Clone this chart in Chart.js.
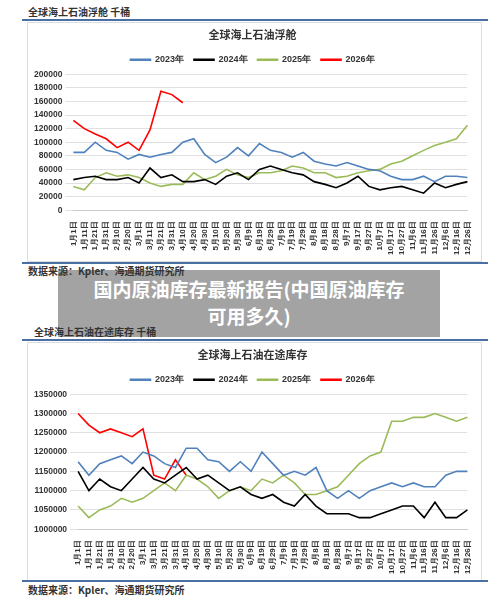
<!DOCTYPE html>
<html><head><meta charset="utf-8">
<script src="https://cdn.jsdelivr.net/npm/chart.js@4"></script>
<style>
body{margin:0;width:500px;height:608px;background:#fff;position:relative;font-family:"Noto Sans CJK SC",sans-serif;overflow:hidden}
.t{position:absolute;font-size:10px;font-weight:bold;color:#333;z-index:5}
.rule{position:absolute;left:22px;width:466px;height:2px;background:#4a6fa5}
.box{position:absolute;border:1px solid #ddd;background:#fff}
canvas{position:absolute}
#ov{position:absolute;left:58px;top:270px;width:382px;height:67px;background:#a3a3a3;color:#fff;font-weight:bold;font-size:19px;text-align:center;line-height:27px;padding-top:5px;box-sizing:border-box}
</style></head><body>
<div class="t" style="left:28px;top:4px">全球海上石油浮舱 千桶</div>
<div class="rule" style="top:19px"></div>
<div class="box" style="left:27px;top:22px;width:453px;height:238px"></div>
<canvas id="c1" width="453" height="238" style="left:27px;top:22px"></canvas>
<div class="rule" style="top:262px"></div>
<div class="t" style="left:28px;top:263px">数据来源：Kpler、海通期货研究所</div>
<div class="t" style="left:34px;top:324px">全球海上石油在途库存 千桶</div>
<div class="rule" style="top:339px"></div>
<div class="box" style="left:27px;top:342px;width:453px;height:237px"></div>
<canvas id="c2" width="453" height="237" style="left:27px;top:342px"></canvas>
<div class="rule" style="top:580px"></div>
<div class="t" style="left:28px;top:582px">数据来源：Kpler、海通期货研究所</div>
<div id="ov">国内原油库存最新报告(中国原油库存<br>可用多久)</div>
<script>
const labels=["1月1日","1月11日","1月21日","1月31日","2月10日","2月20日","3月1日","3月11日","3月21日","3月31日","4月10日","4月20日","4月30日","5月10日","5月20日","5月30日","6月9日","6月19日","6月29日","7月9日","7月19日","7月29日","8月8日","8月18日","8月28日","9月7日","9月17日","9月27日","10月7日","10月17日","10月27日","11月6日","11月16日","11月26日","12月6日","12月16日","12月26日"];
const f2023=[85000,85000,100000,88000,85000,75000,82000,78000,82000,85000,100000,105000,82000,70000,78000,92000,80000,98000,88000,85000,78000,85000,72000,68000,65000,70000,65000,60000,58000,50000,45000,45000,50000,42000,50000,50000,48000];
const f2024=[45000,48000,50000,45000,45000,48000,40000,62000,48000,52000,42000,42000,45000,38000,50000,55000,45000,60000,65000,60000,55000,52000,42000,38000,33000,40000,50000,35000,30000,33000,35000,30000,25000,40000,33000,38000,42000];
const f2025=[35000,30000,48000,55000,50000,52000,48000,40000,35000,38000,38000,55000,45000,50000,60000,52000,48000,55000,55000,58000,65000,62000,55000,55000,48000,50000,55000,58000,60000,68000,72000,80000,88000,95000,100000,105000,125000];
const f2026=[132000,120000,112000,105000,92000,100000,88000,118000,175000,170000,158000];
const t2023=[1175000,1140000,1170000,1180000,1190000,1170000,1200000,1190000,1170000,1160000,1210000,1210000,1180000,1175000,1150000,1175000,1150000,1200000,1170000,1140000,1150000,1140000,1160000,1100000,1080000,1100000,1080000,1100000,1110000,1120000,1110000,1120000,1110000,1110000,1140000,1150000,1150000];
const t2024=[1150000,1100000,1130000,1110000,1100000,1130000,1160000,1130000,1120000,1140000,1160000,1130000,1140000,1120000,1100000,1110000,1090000,1080000,1090000,1070000,1060000,1090000,1060000,1040000,1040000,1040000,1030000,1030000,1040000,1050000,1060000,1060000,1030000,1070000,1030000,1030000,1050000];
const t2025=[1060000,1030000,1050000,1060000,1080000,1070000,1080000,1100000,1120000,1100000,1140000,1130000,1110000,1080000,1100000,1110000,1100000,1130000,1120000,1140000,1120000,1090000,1090000,1100000,1110000,1140000,1170000,1190000,1200000,1280000,1280000,1290000,1290000,1300000,1290000,1280000,1290000];
const t2026=[1300000,1270000,1250000,1260000,1250000,1240000,1260000,1140000,1130000,1180000,1140000];
const names=["2023年","2024年","2025年","2026年"];
const colors=["#4f81bd","#000000","#9bbb59","#ff0000"];
function make(id,title,series,min,max,step){
  new Chart(document.getElementById(id),{type:'line',
    data:{labels,datasets:series.map((d,i)=>({label:names[i],data:d,borderColor:colors[i],backgroundColor:colors[i],borderWidth:1.6,pointRadius:0,tension:0}))},
    options:{responsive:false,animation:false,
      layout:{padding:{left:4,right:6,top:2,bottom:2}},
      plugins:{title:{display:true,text:title,color:'#333',font:{size:11,family:'Noto Sans CJK SC'},padding:{top:4,bottom:4}},
        legend:{labels:{boxWidth:20,boxHeight:1,color:'#333',font:{size:9,weight:'bold'},padding:10}}},
      scales:{x:{grid:{display:false},border:{color:'#ccc'},ticks:{autoSkip:false,minRotation:90,maxRotation:90,color:'#333',font:{size:8,weight:'bold'}}},
        y:{min,max,ticks:{stepSize:step,color:'#333',font:{size:8.5,weight:'bold'},callback:v=>String(v)},grid:{color:'#e0e0e0'},border:{display:false}}}}});
}
make('c1','全球海上石油浮舱',[f2023,f2024,f2025,f2026],0,200000,20000);
make('c2','全球海上石油在途库存',[t2023,t2024,t2025,t2026],1000000,1350000,50000);
</script></body></html>
